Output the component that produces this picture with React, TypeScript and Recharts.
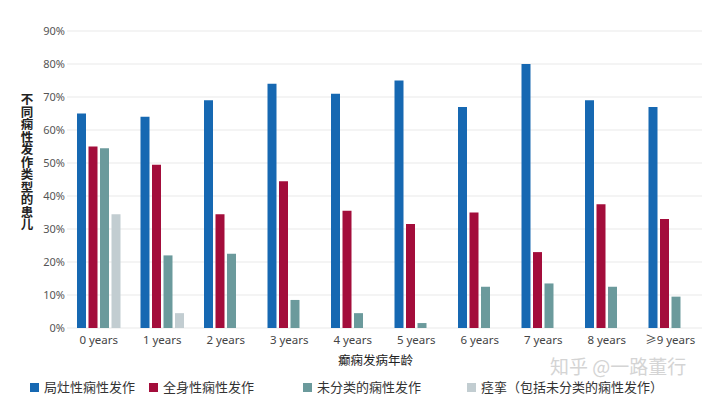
import { BarChart, Bar, XAxis, YAxis, CartesianGrid, Legend, Label } from 'recharts';

const ages = ['0 years', '1 years', '2 years', '3 years', '4 years', '5 years', '6 years', '7 years', '8 years', '≥9 years'];
const focal = [65, 64, 69, 74, 71, 75, 67, 80, 69, 67];
const generalized = [55, 49.5, 34.5, 44.5, 35.5, 31.5, 35, 23, 37.5, 33];
const unclassified = [54.5, 22, 22.5, 8.5, 4.5, 1.5, 12.5, 13.5, 12.5, 9.5];
const spasms = [34.5, 4.5, null, null, null, null, null, null, null, null];
const yTicks = [0, 10, 20, 30, 40, 50, 60, 70, 80, 90];

const seriesNames = ['局灶性痫性发作', '全身性痫性发作', '未分类的痫性发作', '痉挛（包括未分类的痫性发作）'];
const seriesColors = ['#1668b2', '#a30d3b', '#6b9a9c', '#c2cdd1'];
const yTitle = '不同痫性发作类型的患儿';

const data = ages.map((age, i) => ({
  age,
  focal: focal[i],
  generalized: generalized[i],
  unclassified: unclassified[i],
  spasms: spasms[i],
}));

const FONT = '"Noto Sans", "Noto Sans CJK SC", sans-serif';

// vertical upright title, one text node
function YTitle() {
  return (
    <text
      x={27}
      y={93}
      fontSize={12.5}
      fontWeight={600}
      fill="#222"
      fontFamily='"Noto Sans CJK SC", sans-serif'
      style={{ writingMode: 'vertical-rl', textOrientation: 'upright' }}
    >
      {yTitle}
    </text>
  );
}

function LegendRow() {
  const gaps = [30, 14, 49, 46];
  return (
    <div style={{ display: 'flex', alignItems: 'center', height: 20, fontFamily: FONT, fontSize: 13, color: '#333' }}>
      {seriesNames.map((name, i) => (
        <div key={name} style={{ display: 'flex', alignItems: 'center', marginLeft: gaps[i] }}>
          <span style={{ width: 9, height: 9, background: seriesColors[i], marginRight: 5, display: 'inline-block' }} />
          <span style={{ lineHeight: '16px' }}>{name}</span>
        </div>
      ))}
    </div>
  );
}

export default function App() {
  return (
    <div style={{ position: 'relative', width: 720, height: 404, background: '#fff' }}>
      <style>{'body{margin:0}'}</style>
      <BarChart
        width={720}
        height={404}
        data={data}
        margin={{ top: 31, right: 18, left: 0, bottom: 7 }}
        barSize={9}
        barGap={2.5}
      >
        <CartesianGrid horizontal vertical={false} stroke="#e9e9e9" />
        <XAxis
          dataKey="age"
          height={49}
          axisLine={false}
          tickLine={false}
          tickSize={0}
          tickMargin={8}
          interval={0}
          tick={{ fill: '#444', fontSize: 11.5, fontFamily: FONT }}
        >
          <Label
            value="癫痫发病年龄"
            position="insideBottom"
            offset={12}
            dx={-9}
            style={{ fill: '#222', fontSize: 12.5, fontFamily: FONT }}
          />
        </XAxis>
        <YAxis
          width={67}
          domain={[0, 90]}
          ticks={yTicks}
          axisLine={false}
          tickLine={false}
          tickSize={0}
          tickMargin={2}
          tickFormatter={(v) => `${v}%`}
          tick={{ fill: '#555', fontSize: 11, fontFamily: FONT }}
        >
          <Label content={() => <YTitle />} />
        </YAxis>
        <Legend verticalAlign="bottom" align="left" height={20} content={() => <LegendRow />} />
        <Bar dataKey="focal" name={seriesNames[0]} fill={seriesColors[0]} isAnimationActive={false} />
        <Bar dataKey="generalized" name={seriesNames[1]} fill={seriesColors[1]} isAnimationActive={false} />
        <Bar dataKey="unclassified" name={seriesNames[2]} fill={seriesColors[2]} isAnimationActive={false} />
        <Bar dataKey="spasms" name={seriesNames[3]} fill={seriesColors[3]} isAnimationActive={false} />
      </BarChart>
      <div
        style={{
          position: 'absolute',
          left: 550,
          top: 356,
          lineHeight: '20px',
          fontFamily: '"Noto Sans CJK SC", sans-serif',
          fontSize: 19,
          color: '#d4d4d4',
          whiteSpace: 'nowrap',
        }}
      >
        知乎 @一路董行
      </div>
    </div>
  );
}
